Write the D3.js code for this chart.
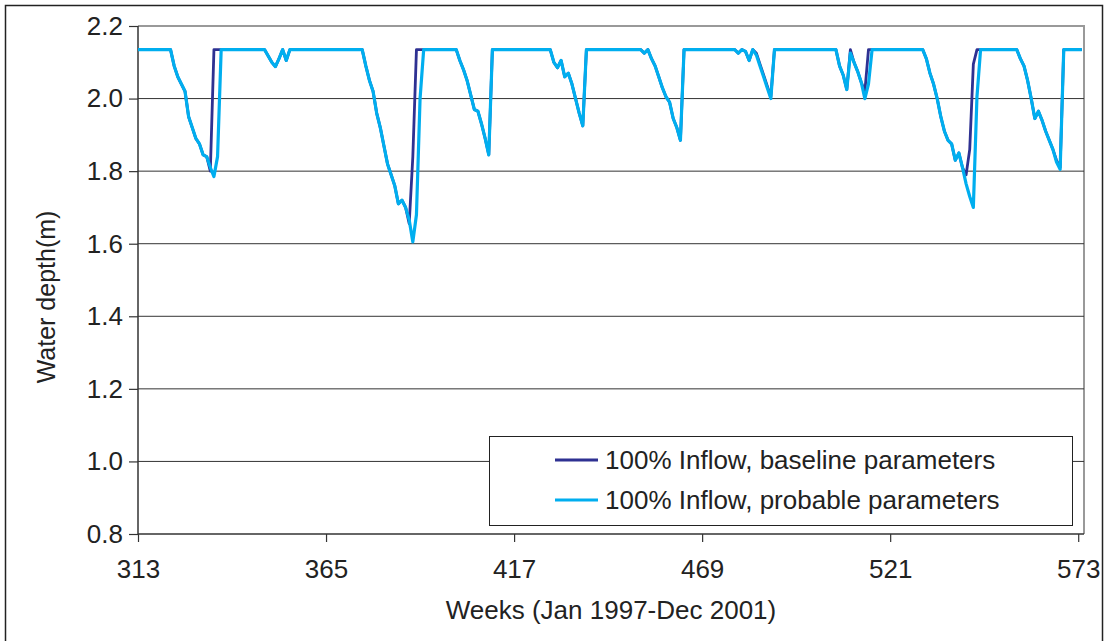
<!DOCTYPE html>
<html>
<head>
<meta charset="utf-8">
<script src="https://cdn.jsdelivr.net/npm/d3@7"></script>
<style>
  body { margin: 0; background: #fff; }
  text { font-family: "Liberation Sans", Arial, sans-serif; fill: #222; }
</style>
</head>
<body>
<svg id="chart" width="1108" height="641"></svg>
<script>
// weeks where the lines change direction, and the water depth there (m)
const baseWeeks = [313, 322, 323, 324, 325, 326, 327, 328, 329, 330, 331, 332, 333, 334,
  348, 350, 351, 352, 353, 354, 355,
  375, 376, 377, 378, 379, 380, 381, 382, 383, 384, 385, 386, 387, 388, 389, 390,
  401, 402, 403, 404, 405, 406, 407, 408, 409, 410, 411,
  427, 428, 429, 430, 431, 432, 433, 434, 435, 436, 437,
  452, 453, 454, 455, 456, 457, 458, 459, 460, 461, 462, 463, 464,
  478, 479, 480, 481, 482, 483, 484, 485, 486, 487, 488, 489,
  506, 507, 508, 509, 510, 511, 512, 513, 514, 515,
  530, 531, 532, 533, 534, 535, 536, 537, 538, 539, 540, 541, 542, 543, 544, 545,
  556, 557, 558, 559, 560, 561, 562, 563, 564, 565, 566, 567, 568, 569, 574];
const baseDepth = [2.135, 2.135, 2.09, 2.06, 2.04, 2.02, 1.95, 1.92, 1.89, 1.875, 1.845, 1.84, 1.80, 2.135,
  2.135, 2.10, 2.088, 2.11, 2.135, 2.105, 2.135,
  2.135, 2.09, 2.05, 2.02, 1.96, 1.92, 1.87, 1.82, 1.79, 1.76, 1.71, 1.72, 1.70, 1.655, 1.84, 2.135,
  2.135, 2.105, 2.08, 2.05, 2.01, 1.97, 1.965, 1.93, 1.89, 1.845, 2.135,
  2.135, 2.10, 2.085, 2.105, 2.06, 2.07, 2.04, 2.00, 1.96, 1.925, 2.135,
  2.135, 2.125, 2.135, 2.11, 2.09, 2.06, 2.03, 2.005, 1.99, 1.945, 1.92, 1.885, 2.135,
  2.135, 2.125, 2.135, 2.13, 2.105, 2.135, 2.125, 2.095, 2.065, 2.035, 2.005, 2.135,
  2.135, 2.09, 2.065, 2.025, 2.135, 2.10, 2.075, 2.045, 2.02, 2.135,
  2.135, 2.11, 2.07, 2.04, 2.00, 1.95, 1.91, 1.885, 1.875, 1.83, 1.85, 1.81, 1.79, 1.86, 2.095, 2.135,
  2.135, 2.11, 2.09, 2.05, 2.00, 1.945, 1.965, 1.94, 1.91, 1.885, 1.86, 1.83, 1.81, 2.135, 2.135];

const probWeeks = [313, 322, 323, 324, 325, 326, 327, 328, 329, 330, 331, 332, 333, 334, 335, 336,
  348, 350, 351, 352, 353, 354, 355,
  375, 376, 377, 378, 379, 380, 381, 382, 383, 384, 385, 386, 387, 388, 389, 390, 391, 392,
  401, 402, 403, 404, 405, 406, 407, 408, 409, 410, 411,
  427, 428, 429, 430, 431, 432, 433, 434, 435, 436, 437,
  452, 453, 454, 455, 456, 457, 458, 459, 460, 461, 462, 463, 464,
  478, 479, 480, 481, 482, 483, 484, 485, 486, 487, 488, 489,
  506, 507, 508, 509, 510, 511, 512, 513, 514, 515, 516,
  530, 531, 532, 533, 534, 535, 536, 537, 538, 539, 540, 541, 542, 543, 544, 545, 546,
  556, 557, 558, 559, 560, 561, 562, 563, 564, 565, 566, 567, 568, 569, 574];
const probDepth = [2.135, 2.135, 2.09, 2.06, 2.04, 2.02, 1.95, 1.92, 1.89, 1.875, 1.845, 1.84, 1.81, 1.785, 1.84, 2.135,
  2.135, 2.10, 2.088, 2.11, 2.135, 2.105, 2.135,
  2.135, 2.09, 2.05, 2.02, 1.96, 1.92, 1.87, 1.82, 1.79, 1.76, 1.71, 1.72, 1.70, 1.665, 1.605, 1.68, 2.0, 2.135,
  2.135, 2.105, 2.08, 2.05, 2.01, 1.97, 1.965, 1.93, 1.89, 1.845, 2.135,
  2.135, 2.10, 2.085, 2.105, 2.06, 2.07, 2.04, 2.00, 1.96, 1.925, 2.135,
  2.135, 2.125, 2.135, 2.11, 2.09, 2.06, 2.03, 2.005, 1.99, 1.945, 1.92, 1.885, 2.135,
  2.135, 2.125, 2.135, 2.13, 2.105, 2.135, 2.12, 2.09, 2.06, 2.03, 2.00, 2.135,
  2.135, 2.09, 2.065, 2.025, 2.125, 2.10, 2.075, 2.045, 2.00, 2.04, 2.135,
  2.135, 2.11, 2.07, 2.04, 2.00, 1.95, 1.91, 1.885, 1.875, 1.83, 1.85, 1.81, 1.765, 1.73, 1.70, 2.005, 2.135,
  2.135, 2.11, 2.09, 2.05, 2.00, 1.945, 1.965, 1.94, 1.91, 1.885, 1.86, 1.825, 1.805, 2.135, 2.135];

const xTicks = [313, 365, 417, 469, 521, 573];
const yTicks = [0.8, 1.0, 1.2, 1.4, 1.6, 1.8, 2.0, 2.2];
const seriesNames = ["100% Inflow, baseline parameters", "100% Inflow, probable parameters"];
const seriesColors = ["#2e3192", "#00aeef"];

const svg = d3.select("#chart");
const plot = { left: 138, right: 1084, top: 26, bottom: 534 };

const x = d3.scaleLinear().domain([313, 574.6]).range([plot.left, plot.right]);
const y = d3.scaleLinear().domain([0.8, 2.2]).range([plot.bottom, plot.top]);

// outer frame
svg.append("rect")
  .attr("x", 5.5).attr("y", 5.5)
  .attr("width", 1097).attr("height", 650)
  .attr("fill", "none").attr("stroke", "#222").attr("stroke-width", 1.5);

// plot border (grey top and right)
svg.append("path")
  .attr("d", `M${plot.left},${plot.top}H${plot.right}V${plot.bottom}`)
  .attr("fill", "none").attr("stroke", "#999").attr("stroke-width", 2);

// gridlines
svg.append("g")
  .selectAll("line")
  .data(yTicks.filter((d) => d > 0.8 && d < 2.2))
  .enter()
  .append("line")
  .attr("x1", plot.left).attr("x2", plot.right)
  .attr("y1", (d) => y(d)).attr("y2", (d) => y(d))
  .attr("stroke", "#333").attr("stroke-width", 1);

const yAxis = svg.append("g")
  .attr("transform", `translate(${plot.left},0)`)
  .call(d3.axisLeft(y).tickValues(yTicks).tickFormat(d3.format(".1f")).tickSize(9).tickPadding(6));

const xAxis = svg.append("g")
  .attr("transform", `translate(0,${plot.bottom})`)
  .call(d3.axisBottom(x).tickValues(xTicks).tickFormat(d3.format("d")).tickSize(8).tickPadding(18));

[yAxis, xAxis].forEach((a) => {
  a.select(".domain").attr("stroke", "#333").attr("stroke-width", 1.5);
  a.selectAll(".tick line").attr("stroke", "#333").attr("stroke-width", 1.2);
  a.selectAll("text").style("font-size", "26px").attr("fill", "#222");
});
yAxis.select(".domain").attr("d", `M0,${plot.bottom}V${plot.top}`);
xAxis.select(".domain").attr("d", `M${plot.left},0H${plot.right}`);

// lines
const line = d3.line()
  .x((d) => x(d.week))
  .y((d) => y(d.depth));

const series = [
  baseWeeks.map((w, i) => ({ week: w, depth: baseDepth[i] })),
  probWeeks.map((w, i) => ({ week: w, depth: probDepth[i] })),
];

svg.append("defs").append("clipPath").attr("id", "clip")
  .append("rect").attr("x", plot.left).attr("y", plot.top - 5)
  .attr("width", plot.right - plot.left).attr("height", plot.bottom - plot.top + 5);

svg.append("g")
  .attr("clip-path", "url(#clip)")
  .selectAll("path")
  .data(series)
  .enter()
  .append("path")
  .attr("fill", "none")
  .attr("stroke", (d, i) => seriesColors[i])
  .attr("stroke-width", (d, i) => (i === 0 ? 2.8 : 3.2))
  .attr("stroke-linejoin", "round")
  .attr("d", (d) => line(d));

// legend
const legend = svg.append("g");
legend.append("rect")
  .attr("x", 489.5).attr("y", 436.5)
  .attr("width", 583).attr("height", 89)
  .attr("fill", "#fff").attr("stroke", "#222").attr("stroke-width", 1);

const rows = legend.selectAll("g.row")
  .data(seriesNames)
  .enter()
  .append("g")
  .attr("class", "row")
  .attr("transform", (d, i) => `translate(0,${i === 0 ? 460 : 500})`);

rows.append("line")
  .attr("x1", 555).attr("x2", 598)
  .attr("stroke", (d, i) => seriesColors[i])
  .attr("stroke-width", 3);

rows.append("text")
  .attr("x", 605)
  .attr("dy", "0.35em")
  .style("font-size", "26px")
  .text((d) => d);

// axis titles
svg.append("text")
  .attr("x", (plot.left + plot.right) / 2)
  .attr("y", 619)
  .attr("text-anchor", "middle")
  .style("font-size", "26px")
  .text("Weeks (Jan 1997-Dec 2001)");

svg.append("text")
  .attr("transform", "translate(55,297) rotate(-90)")
  .attr("text-anchor", "middle")
  .style("font-size", "25px")
  .text("Water depth(m)");
</script>
</body>
</html>
